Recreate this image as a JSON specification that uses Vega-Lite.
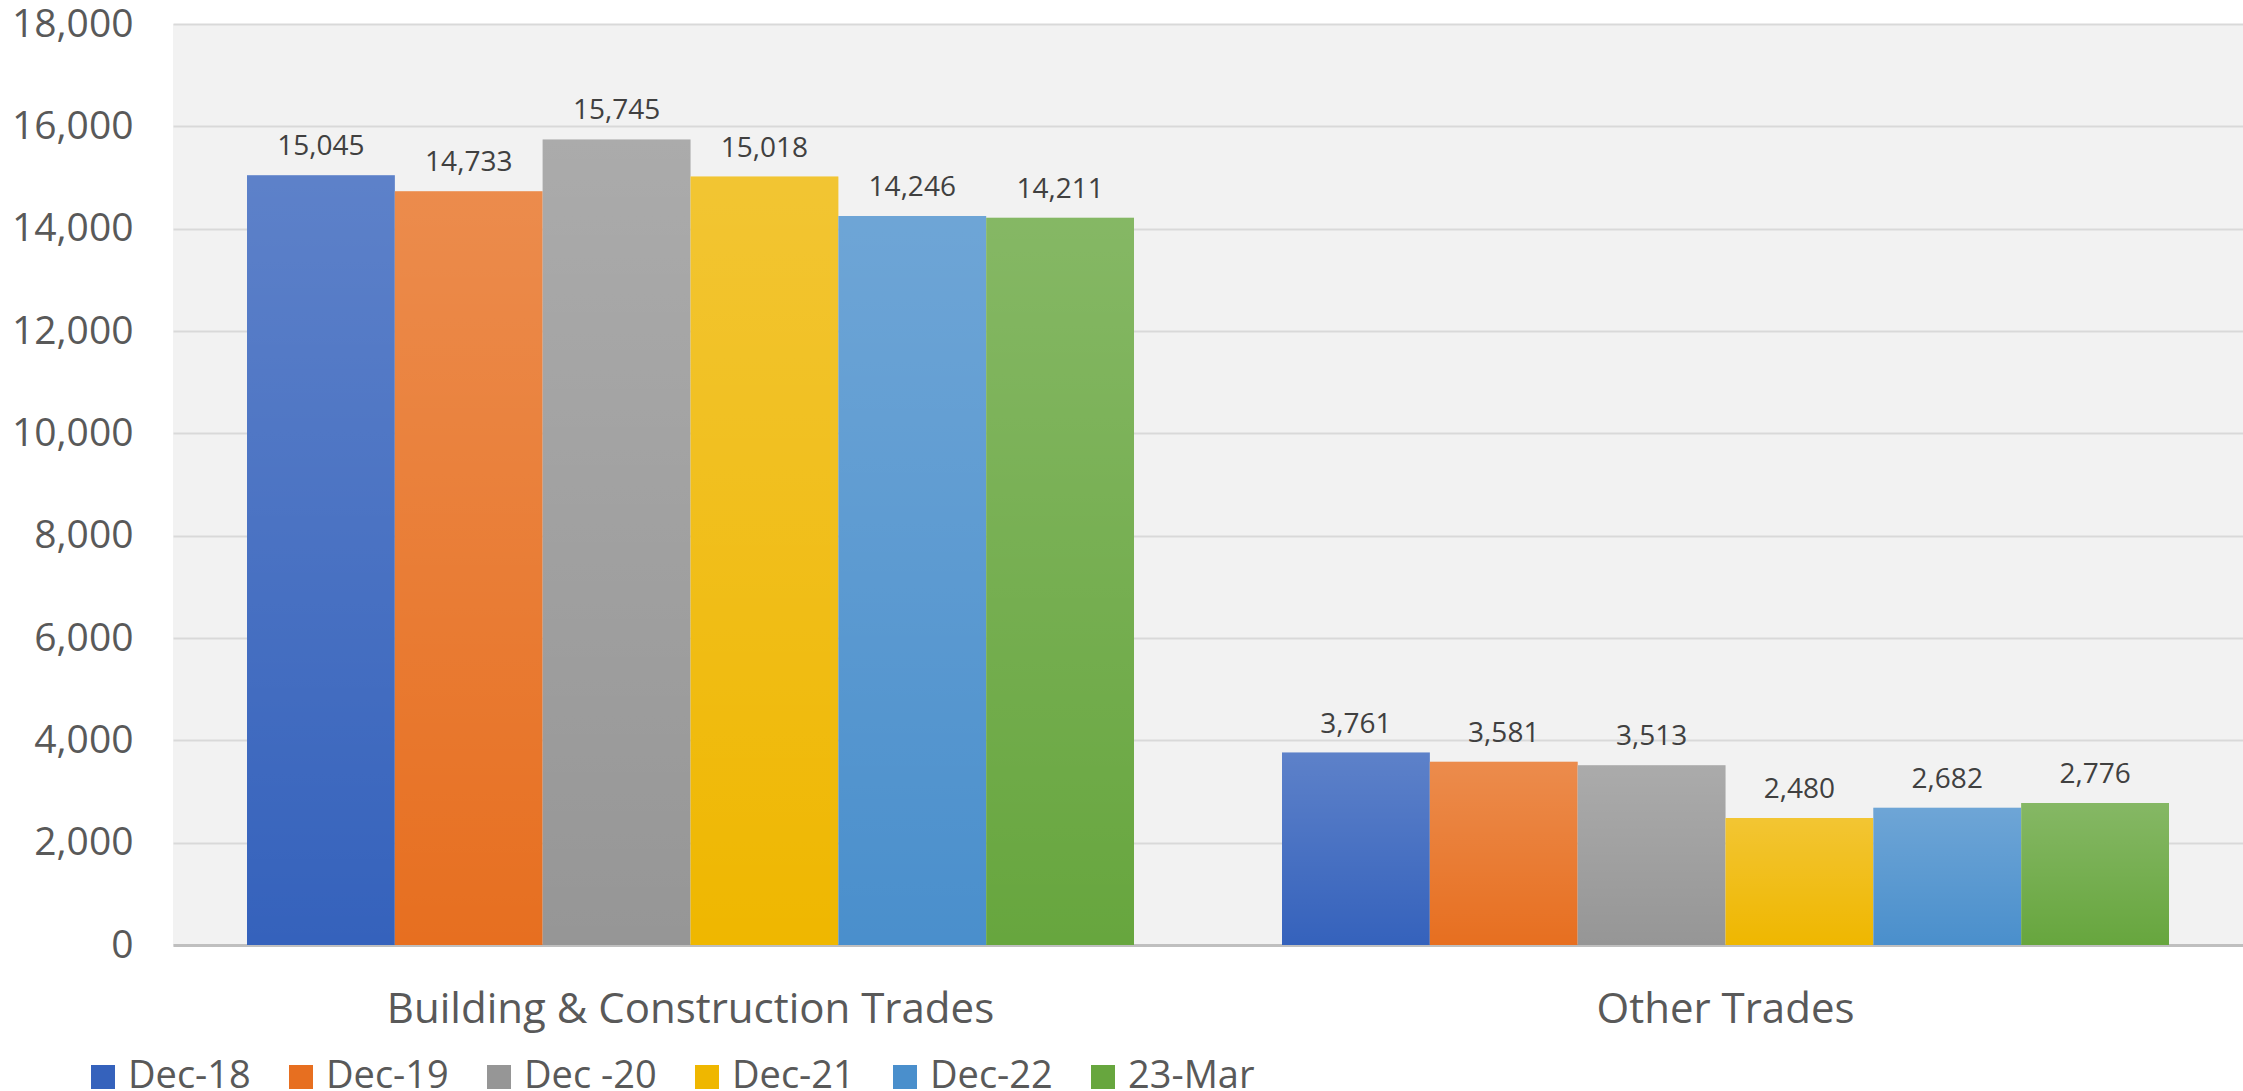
{
  "$schema": "https://vega.github.io/schema/vega-lite/v6.json",
  "width": 2070,
  "height": 921,
  "autosize": {"type": "none"},
  "padding": {"left": 173, "top": 24, "right": 0, "bottom": 146},
  "background": "white",
  "config": {
    "view": {"fill": "#f2f2f2", "stroke": null},
    "font": "Open Sans"
  },
  "data": {
    "values": [
      {"category": "Building & Construction Trades", "period": "Dec-18", "value": 15045},
      {"category": "Building & Construction Trades", "period": "Dec-19", "value": 14733},
      {"category": "Building & Construction Trades", "period": "Dec -20", "value": 15745},
      {"category": "Building & Construction Trades", "period": "Dec-21", "value": 15018},
      {"category": "Building & Construction Trades", "period": "Dec-22", "value": 14246},
      {"category": "Building & Construction Trades", "period": "23-Mar", "value": 14211},
      {"category": "Other Trades", "period": "Dec-18", "value": 3761},
      {"category": "Other Trades", "period": "Dec-19", "value": 3581},
      {"category": "Other Trades", "period": "Dec -20", "value": 3513},
      {"category": "Other Trades", "period": "Dec-21", "value": 2480},
      {"category": "Other Trades", "period": "Dec-22", "value": 2682},
      {"category": "Other Trades", "period": "23-Mar", "value": 2776}
    ]
  },
  "encoding": {
    "x": {
      "field": "category",
      "type": "nominal",
      "sort": null,
      "scale": {"paddingInner": 0.143, "paddingOuter": 0.0715},
      "axis": {
        "title": null,
        "domain": true,
        "domainColor": "#bfbfbf",
        "domainWidth": 3,
        "ticks": false,
        "labelAngle": 0,
        "labelFontSize": 42,
        "labelColor": "#595959",
        "labelPadding": 44,
        "labelBaseline": "top",
        "labelLimit": 1500
      }
    },
    "xOffset": {
      "field": "period",
      "type": "nominal",
      "sort": null,
      "scale": {"paddingInner": 0, "paddingOuter": 0}
    },
    "y": {
      "field": "value",
      "type": "quantitative",
      "scale": {"domain": [0, 18000], "nice": false},
      "axis": {
        "title": null,
        "values": [0, 2000, 4000, 6000, 8000, 10000, 12000, 14000, 16000, 18000],
        "format": ",d",
        "domain": false,
        "ticks": false,
        "grid": true,
        "gridColor": "#d9d9d9",
        "gridWidth": 2,
        "labelFontSize": 39,
        "labelColor": "#595959",
        "labelPadding": 40
      }
    }
  },
  "layer": [
    {
      "mark": {"type": "bar"},
      "encoding": {
        "color": {
          "field": "period",
          "type": "nominal",
          "sort": null,
          "scale": {
            "domain": ["Dec-18", "Dec-19", "Dec -20", "Dec-21", "Dec-22", "23-Mar"],
            "range": ["#3562bc", "#e76f20", "#969696", "#efb700", "#4a8fcc", "#67a63e"]
          },
          "legend": {
            "title": null,
            "orient": "none",
            "direction": "horizontal",
            "legendX": -89,
            "legendY": 1034,
            "padding": 0,
            "symbolType": "square",
            "symbolSize": 576,
            "symbolStrokeWidth": 0,
            "symbolOpacity": 1,
            "labelFontSize": 38,
            "labelColor": "#595959",
            "labelOffset": 6,
            "columnPadding": 31,
            "labelLimit": 0
          }
        }
      }
    },
    {
      "mark": {
        "type": "bar",
        "color": {
          "gradient": "linear",
          "x1": 0, "y1": 0, "x2": 0, "y2": 1,
          "stops": [
            {"offset": 0, "color": "rgba(255,255,255,0.2)"},
            {"offset": 1, "color": "rgba(255,255,255,0)"}
          ]
        }
      }
    },
    {
      "mark": {"type": "text", "baseline": "alphabetic", "dy": -20, "fontSize": 28, "color": "#404040"},
      "encoding": {
        "text": {"field": "value", "type": "quantitative", "format": ","}
      }
    }
  ]
}
